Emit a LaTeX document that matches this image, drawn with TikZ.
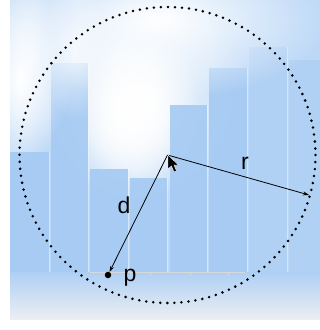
\documentclass[tikz,border=0pt]{standalone}
\usepackage{fontspec}
\setmainfont{Liberation Sans}
\usetikzlibrary{calc,arrows.meta,positioning,fadings}
\definecolor{skyback}{HTML}{BCD8F7}
\definecolor{barblue}{HTML}{A5CAF3}
\definecolor{floorgray}{HTML}{ECEEF2}
\tikzstyle{arrow} = [line width=0.8pt,-{Stealth[length=6pt,width=4pt]}]
\tikzstyle{lbl} = [font=\fontsize{23}{23}\selectfont, inner sep=0pt]
\tikzstyle{spot} = [circle, fill=black, inner sep=0pt, minimum size=6.5pt]
\tikzstyle{rim} = [line width=2.8pt, line cap=round, dash pattern=on 0pt off 7.05pt]
\tikzfading[name=glow, inner color=transparent!0, outer color=transparent!100]

\begin{document}
\begin{tikzpicture}[x=1pt,y=-1pt]
	\useasboundingbox (0,0) rectangle (320,330);

	%% blurred histogram behind the circle
	\fill[skyback] (10,0) rectangle (320,272);
	% white glow behind the bars
	\fill[white, path fading=glow] (140,100) ellipse (110 and 110);
	\fill[white, path fading=glow] (130,110) ellipse (70 and 95);
	\fill[white, path fading=glow] (130,110) ellipse (50 and 75);
	\fill[white, path fading=glow] (20,80) ellipse (40 and 100);
	\foreach \xa/\xb/\top/\op in {10/49/152/0.9, 51/88/63/0.9, 90/128/169/0.9,
		130/167/178/0.9, 170/207/105/0.9, 209/247/68/0.9, 249/287/47/0.5,
		289/320/60/0.5}
	{
	  \fill[barblue, opacity=\op] (\xa,\top) rectangle (\xb,272);
	  \draw[white, opacity=0.35] (\xb,\top) -- (\xb,272);
	}
	% white haze over the top
	\fill[white, path fading=glow] (160,20) ellipse (170 and 80);
	\fill[white, path fading=glow, opacity=0.7] (30,60) ellipse (45 and 90);
	\fill[white, path fading=glow, opacity=0.7] (75,50) ellipse (35 and 70);
	% floor
	\shade[top color=barblue!90!white, bottom color=floorgray] (10,272) rectangle (320,319);
	\draw[gray!30] (90,272) -- (245,272);
	\foreach \t in {150,190,228}
	  \draw[gray!30] (\t,272) -- (\t,276);

	%% points
	\coordinate (C) at (167.5,155); % centre
	\coordinate (R) at (309,195);   % point on the rim
	\node[spot] (P) at (108,275) {};

	%% circle and radii
	\draw[rim] (C) circle (148);
	\draw[arrow] (C) -- (R);
	\draw[arrow] (C) -- (P);

	\node[lbl] (r) at (245,163) {r};
	\node[lbl] (d) at (124,205) {d};
	\node[lbl] (p) at (130,278) {p};

	% mouse pointer
	\fill[black, draw=white, line width=0.4pt]
	  (168,155) -- (168,169) -- (171.5,166) -- (174,172) -- (176.5,171)
	  -- (174,165) -- (178.5,165) -- cycle;
\end{tikzpicture}
\end{document}
